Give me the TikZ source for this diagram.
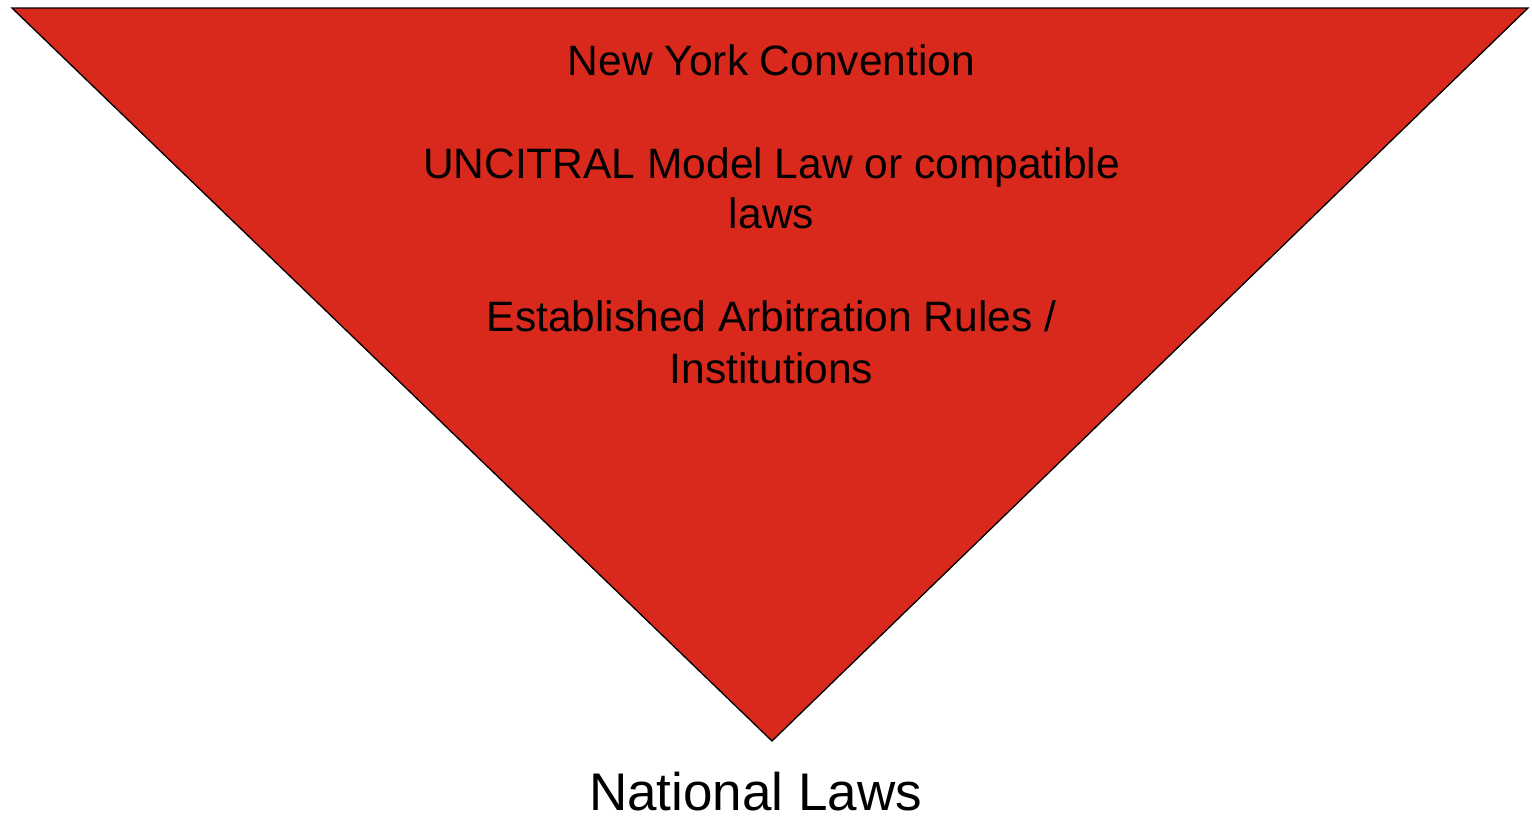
\documentclass[tikz,border=0pt]{standalone}
\usepackage{fontspec}
\setmainfont{Liberation Sans}
\definecolor{pyramidred}{HTML}{D9291D}
\begin{document}
\begin{tikzpicture}[x=1pt,y=-1pt,
  tier/.style={anchor=base,inner sep=0pt,font=\fontsize{42.5}{51}\selectfont},
  base label/.style={anchor=base,inner sep=0pt,font=\fontsize{53}{63}\selectfont}]
  \useasboundingbox (0,0) rectangle (1532,815);
  % inverted triangle
  \coordinate (tl) at (12,8);
  \coordinate (tr) at (1528,8);
  \coordinate (tip) at (772,741);
  \filldraw[fill=pyramidred,draw=black,line width=1.3pt,line join=miter] (tl) -- (tr) -- (tip) -- cycle;
  % tiers of the triangle
  \node[tier] (nyc) at (771.5,75) {New York Convention};
  \node[tier] (unc1) at (771.5,178) {UNCITRAL Model Law or compatible};
  \node[tier] (unc2) at (771.5,228) {laws};
  \node[tier] (est1) at (771.5,331) {Established Arbitration Rules /};
  \node[tier] (est2) at (771.5,383) {Institutions};
  % label below the tip
  \node[base label] (nat) at (755.5,810) {National Laws};
\end{tikzpicture}
\end{document}
